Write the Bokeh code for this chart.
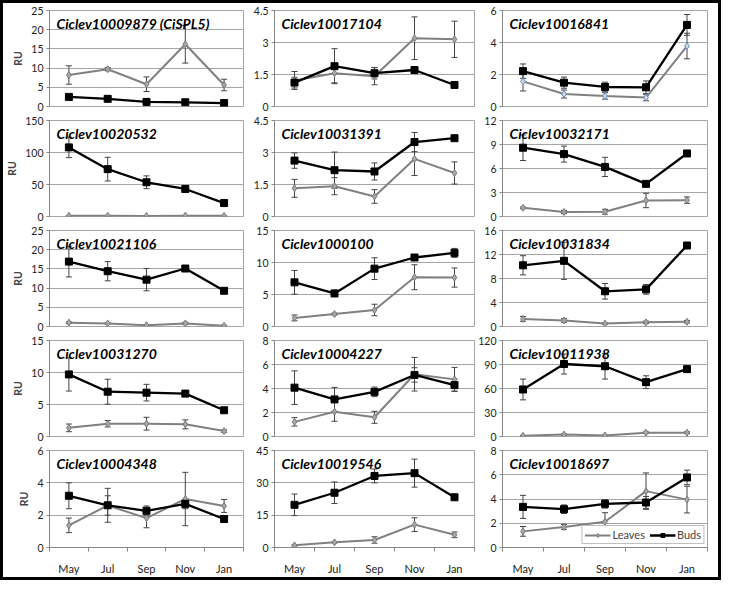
import numpy as np
from bokeh.plotting import figure
from bokeh.layouts import gridplot, column
from bokeh.models import (Range1d, FixedTicker, Whisker, TeeHead, ColumnDataSource,
                          Label, Legend, LegendItem)
from bokeh.embed import file_html
from bokeh.resources import INLINE

months = ["May", "Jul", "Sep", "Nov", "Jan"]

genes = ["Ciclev10009879 (CiSPL5)", "Ciclev10017104", "Ciclev10016841",
         "Ciclev10020532", "Ciclev10031391", "Ciclev10032171",
         "Ciclev10021106", "Ciclev1000100", "Ciclev10031834",
         "Ciclev10031270", "Ciclev10004227", "Ciclev10011938",
         "Ciclev10004348", "Ciclev10019546", "Ciclev10018697"]

y_max = [25, 4.5, 6, 150, 4.5, 12, 25, 15, 16, 15, 8, 120, 6, 45, 8]
y_step = [5, 1.5, 2, 50, 1.5, 3, 5, 5, 4, 5, 2, 30, 2, 15, 2]

leaves = [
    [8.2, 9.7, 5.8, 16.2, 5.6],
    [1.22, 1.56, 1.42, 3.2, 3.15],
    [1.57, 0.78, 0.66, 0.56, 3.78],
    [1.2, 1.0, 0.8, 1.3, 1.0],
    [1.32, 1.42, 0.94, 2.7, 2.04],
    [1.08, 0.56, 0.6, 2.0, 2.04],
    [1.0, 0.8, 0.35, 0.8, 0.2],
    [1.34, 1.94, 2.58, 7.7, 7.65],
    [1.27, 1.0, 0.48, 0.69, 0.79],
    [1.35, 2.0, 2.0, 1.9, 0.85],
    [1.22, 2.07, 1.6, 5.19, 4.76],
    [0.8, 2.4, 1.2, 4.8, 4.8],
    [1.37, 2.6, 1.82, 3.0, 2.57],
    [1.0, 2.4, 3.5, 10.6, 5.9],
    [1.33, 1.7, 2.12, 4.65, 3.95],
]
leaves_err = [
    [2.4, 0.4, 1.9, 4.9, 1.5],
    [0.42, 0.45, 0.4, 1.0, 0.85],
    [0.6, 0.25, 0.2, 0.2, 0.8],
    [0.3, 0.3, 0.3, 0.3, 0.3],
    [0.42, 0.4, 0.32, 0.78, 0.52],
    [0.1, 0.2, 0.3, 0.9, 0.4],
    [0.2, 0.2, 0.1, 0.3, 0.1],
    [0.45, 0.15, 0.9, 1.95, 1.5],
    [0.4, 0.3, 0.1, 0.2, 0.2],
    [0.6, 0.5, 1.0, 0.7, 0.2],
    [0.35, 0.8, 0.5, 1.4, 1.0],
    [0.5, 0.8, 0.5, 1.0, 1.0],
    [0.45, 0.6, 0.6, 1.65, 0.4],
    [0.3, 0.3, 1.5, 3.2, 1.3],
    [0.4, 0.2, 0.75, 1.5, 1.1],
]
buds = [
    [2.5, 2.0, 1.2, 1.1, 0.9],
    [1.12, 1.89, 1.56, 1.71, 1.01],
    [2.21, 1.49, 1.22, 1.2, 5.1],
    [108, 74, 53.5, 43, 21],
    [2.62, 2.17, 2.11, 3.49, 3.67],
    [8.6, 7.8, 6.2, 4.08, 7.88],
    [16.9, 14.4, 12.2, 15.1, 9.3],
    [6.9, 5.17, 9.04, 10.78, 11.5],
    [10.2, 10.95, 5.87, 6.19, 13.5],
    [9.7, 7.0, 6.85, 6.7, 4.1],
    [4.07, 3.09, 3.72, 5.13, 4.28],
    [58.8, 90.6, 87.8, 67.9, 84.2],
    [3.2, 2.61, 2.27, 2.7, 1.76],
    [19.8, 25.4, 33.2, 34.5, 23.3],
    [3.35, 3.16, 3.6, 3.71, 5.78],
]
buds_err = [
    [0.2, 0.2, 0.2, 0.15, 0.1],
    [0.25, 0.82, 0.27, 0.15, 0.05],
    [0.45, 0.35, 0.3, 0.4, 0.65],
    [16, 18.5, 10, 5, 1.5],
    [0.36, 0.85, 0.4, 0.45, 0.1],
    [1.6, 1.0, 1.2, 0.1, 0.2],
    [4.0, 2.5, 2.9, 0.3, 0.3],
    [1.85, 0.5, 1.7, 0.2, 0.7],
    [1.6, 3.1, 1.3, 0.8, 0.5],
    [2.6, 1.95, 1.3, 0.2, 0.2],
    [1.4, 1.0, 0.4, 0.6, 0.5],
    [13, 12.5, 16, 8, 3],
    [0.8, 1.05, 0.3, 0.3, 0.1],
    [5, 5, 3.2, 6.5, 0.5],
    [0.95, 0.35, 0.35, 0.5, 0.6],
]

FONT = "Lato"
NROWS, NCOLS = 5, 3
col_w = [241, 231, 243]
col_ml = [40, 30, 27]
col_mr = [1, 1, 11]
row_h = [110, 110, 110, 110, 134]
row_mt = [7, 7, 7, 7, 7]
row_mb = [7, 7, 7, 7, 30]
GRID = "#a6a6a6"

xs = [k + 0.5 for k in range(len(months))]

rows = []
for r in range(NROWS):
    row = []
    for c in range(NCOLS):
        i = r * NCOLS + c
        last_row = (r == NROWS - 1)
        p = figure(width=col_w[c], height=row_h[r],
                   x_range=Range1d(0, len(months)), y_range=Range1d(0, y_max[i]),
                   output_backend="svg", toolbar_location=None,
                   x_axis_location="below" if last_row else None,
                   min_border_left=col_ml[c], min_border_right=col_mr[c],
                   min_border_top=row_mt[r], min_border_bottom=row_mb[r])
        p.outline_line_color = GRID
        p.outline_line_width = 1
        p.xgrid.visible = False
        p.ygrid.grid_line_color = GRID
        p.ygrid.grid_line_width = 1
        p.background_fill_color = "white"
        p.border_fill_color = "white"

        ticks = list(np.arange(0, y_max[i] + y_step[i] / 2, y_step[i]))
        ya = p.yaxis[0]
        ya.ticker = FixedTicker(ticks=ticks)
        ya.major_label_overrides = {t: ("%g" % t) for t in ticks}
        ya.axis_line_color = "#868686"
        ya.major_tick_line_color = "#868686"
        ya.major_tick_out = 3
        ya.major_tick_in = 0
        ya.minor_tick_line_color = None
        ya.major_label_standoff = 3
        ya.major_label_text_font = FONT
        ya.major_label_text_font_size = "10.5px"
        ya.major_label_text_color = "#222222"
        if c == 0:
            ya.axis_label = "RU"
            ya.axis_label_text_font = FONT
            ya.axis_label_text_font_style = "bold"
            ya.axis_label_text_font_size = "10.5px"
            ya.axis_label_standoff = 4

        if last_row:
            xa = p.xaxis[0]
            xa.ticker = FixedTicker(ticks=xs, minor_ticks=list(range(len(months) + 1)))
            xa.major_label_overrides = {x: m for x, m in zip(xs, months)}
            xa.major_tick_line_color = None
            xa.minor_tick_line_color = "#868686"
            xa.minor_tick_out = 4
            xa.minor_tick_in = 0
            xa.axis_line_color = "#868686"
            xa.major_label_standoff = 8
            xa.major_label_text_font = FONT
            xa.major_label_text_font_size = "11px"
            xa.major_label_text_color = "#222222"

        l_vals, l_err = leaves[i], leaves_err[i]
        b_vals, b_err = buds[i], buds_err[i]
        src_l = ColumnDataSource(dict(x=xs, y=l_vals,
                                      lo=[v - e for v, e in zip(l_vals, l_err)],
                                      hi=[v + e for v, e in zip(l_vals, l_err)]))
        src_b = ColumnDataSource(dict(x=xs, y=b_vals,
                                      lo=[v - e for v, e in zip(b_vals, b_err)],
                                      hi=[v + e for v, e in zip(b_vals, b_err)]))

        l_line = p.line("x", "y", source=src_l, line_color="#808080", line_width=2)
        b_line = p.line("x", "y", source=src_b, line_color="black", line_width=2.3)
        for src in (src_l, src_b):
            w = Whisker(source=src, base="x", upper="hi", lower="lo",
                        line_color="#444444", line_width=1,
                        upper_head=TeeHead(size=6, line_color="#444444", line_width=1),
                        lower_head=TeeHead(size=6, line_color="#444444", line_width=1))
            p.add_layout(w)
        edge = "#5b8fd0" if i == 2 else "#7a7a7a"
        fill = "#d8d8d8" if i == 2 else "#a8a8a8"
        l_mark = p.scatter("x", "y", source=src_l, marker="diamond", size=7,
                           fill_color=fill, line_color=edge, line_width=1)
        b_mark = p.scatter("x", "y", source=src_b, marker="square", size=7,
                           fill_color="black", line_color="black")

        p.add_layout(Label(x=0, y=y_max[i], x_offset=7, y_offset=-4,
                           text=genes[i], text_font=FONT, text_font_style="bold italic",
                           text_font_size="14px", text_baseline="top", text_align="left",
                           text_color="black"))

        if i == NROWS * NCOLS - 1:
            legend = Legend(items=[LegendItem(label="Leaves", renderers=[l_line, l_mark]),
                                   LegendItem(label="Buds", renderers=[b_line, b_mark])],
                            location="bottom_right", orientation="horizontal",
                            border_line_color="#808080", background_fill_color="white",
                            background_fill_alpha=1.0,
                            label_text_font=FONT, label_text_font_size="11px",
                            glyph_width=26, glyph_height=10, label_height=10,
                            padding=2, spacing=4, margin=3, label_standoff=2)
            p.add_layout(legend)
        row.append(p)
    rows.append(row)

grid = gridplot(rows, toolbar_location=None)
page = column(grid, styles={"border": "3px solid black"})

open("out.html", "w").write(file_html(page, INLINE))
